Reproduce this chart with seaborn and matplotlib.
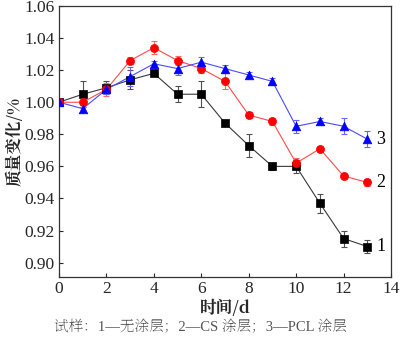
import numpy as np
import pandas as pd
import matplotlib
matplotlib.use("Agg")
import matplotlib.pyplot as plt
import seaborn as sns

# Storage time (days)
days = [0, 1, 2, 3, 4, 5, 6, 7, 8, 9, 10, 11, 12, 13]

# Relative mass change for each sample
mass_uncoated = [1.000, 1.005, 1.009, 1.014, 1.018, 1.005, 1.005, 0.987, 0.973, 0.960, 0.960, 0.937, 0.915, 0.910]
mass_cs = [1.000, 1.000, 1.008, 1.026, 1.034, 1.026, 1.021, 1.013, 0.992, 0.988, 0.962, 0.971, 0.954, 0.950]
mass_pcl = [1.000, 0.996, 1.008, 1.016, 1.024, 1.021, 1.025, 1.021, 1.017, 1.013, 0.985, 0.988, 0.985, 0.977]

# Standard deviations
err_uncoated = [0.000, 0.008, 0.004, 0.006, 0.001, 0.005, 0.008, 0.002, 0.007, 0.002, 0.004, 0.006, 0.005, 0.004]
err_cs = [0.000, 0.003, 0.004, 0.002, 0.004, 0.003, 0.003, 0.005, 0.002, 0.002, 0.003, 0.002, 0.002, 0.002]
err_pcl = [0.000, 0.002, 0.003, 0.006, 0.002, 0.004, 0.003, 0.002, 0.002, 0.002, 0.004, 0.002, 0.005, 0.005]

series_ids = ["1", "2", "3"]
x_ticks = [0, 2, 4, 6, 8, 10, 12, 14]
y_ticks = [0.90, 0.92, 0.94, 0.96, 0.98, 1.00, 1.02, 1.04, 1.06]

sns.set_style("ticks")
plt.rcParams["font.family"] = ["Liberation Serif", "Noto Serif SC", "DejaVu Sans"]
plt.rcParams["axes.unicode_minus"] = False
label_family = ["Noto Serif CJK JP", "Liberation Serif"]

df = pd.concat([
    pd.DataFrame({"day": days, "mass": mass_uncoated, "err": err_uncoated, "sample": "1"}),
    pd.DataFrame({"day": days, "mass": mass_cs, "err": err_cs, "sample": "2"}),
    pd.DataFrame({"day": days, "mass": mass_pcl, "err": err_pcl, "sample": "3"}),
], ignore_index=True)

line_colors = {"1": "#3a3a3a", "2": "#ff4a4a", "3": "#4a4aff"}
err_colors = {"1": "#505050", "2": "#ff6666", "3": "#6666ff"}
marker_colors = {"1": "#000000", "2": "#ff0000", "3": "#0000ff"}
markers = {"1": "s", "2": "o", "3": "^"}
msizes = {"1": 5.2, "2": 5.8, "3": 6.2}

fig = plt.figure(figsize=(4.0, 3.43), dpi=100)
ax = fig.add_axes([0.1475, 0.1924, 0.83, 0.79])

for sid in series_ids:
    sub = df[df["sample"] == sid]
    ax.errorbar(sub["day"], sub["mass"], yerr=sub["err"], fmt="none",
                ecolor=err_colors[sid], elinewidth=0.8, capsize=2.5, capthick=0.8, zorder=2)
    sns.lineplot(data=sub, x="day", y="mass", ax=ax, color=line_colors[sid],
                 linewidth=0.8, marker=None, legend=False, zorder=3)
    sns.scatterplot(data=sub, x="day", y="mass", ax=ax, color=marker_colors[sid],
                    marker=markers[sid], s=msizes[sid] ** 2, edgecolor=marker_colors[sid],
                    linewidth=0.5, legend=False, zorder=4)
    last = sub.iloc[-1]
    ax.text(last["day"] + 0.38, last["mass"], sid, va="center", ha="left",
            color="#000000", fontsize=13)

ax.set_xlim(0, 14)
ax.set_ylim(0.891, 1.06)
ax.set_xticks(x_ticks)
ax.set_yticks(y_ticks)
ax.set_xticklabels([str(v) for v in x_ticks])
ax.set_yticklabels([f"{v:.2f}" for v in y_ticks])
for lab in ax.get_xticklabels() + ax.get_yticklabels():
    lab.set_fontsize(12.5)
ax.tick_params(direction="in", length=3, width=0.8, pad=3, top=False, right=False)
for s in ax.spines.values():
    s.set_linewidth(0.9)
    s.set_color("#333333")

ax.set_xlabel("时间/d", fontsize=12, fontweight="bold", family=label_family, labelpad=2)
ax.set_ylabel("质量变化/%", fontsize=12, fontweight="bold", family=label_family, labelpad=1)

fig.text(0.5, 0.045, "试样：1—无涂层；2—CS 涂层；3—PCL 涂层", ha="center", va="center",
         fontsize=10.5, color="#555555", family=["Liberation Serif", "Noto Serif SC"])

fig.savefig("out.png", dpi=100)
